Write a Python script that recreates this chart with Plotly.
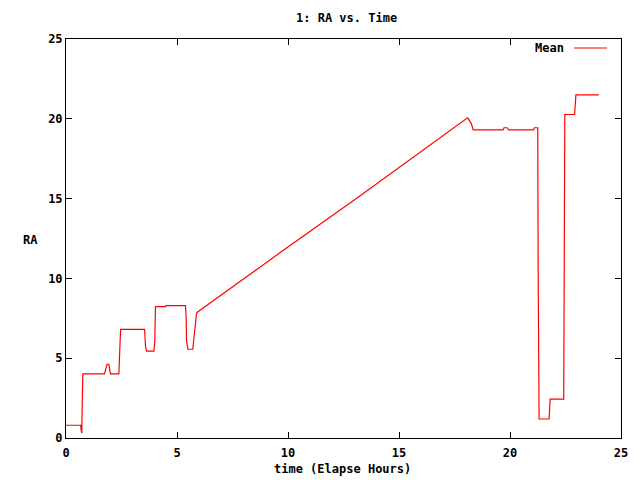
import plotly.graph_objects as go

# elapsed time (hours) and mean RA
time_hours = [0.0, 0.66, 0.68, 0.71, 0.73, 0.76, 1.73, 1.80, 1.85, 1.93, 2.00, 2.38, 2.40, 2.46,
              3.54, 3.58, 3.63, 3.96, 4.00, 4.03, 4.48, 4.50, 5.38, 5.41, 5.43, 5.49, 5.71, 5.76,
              5.84, 5.88, 5.93, 7.28, 9.60, 13.0, 16.77, 18.09, 18.19, 18.26, 18.34, 19.69, 19.73,
              19.87, 19.94, 21.06, 21.10, 21.25, 21.27, 21.31, 21.76, 21.78, 21.81, 22.42, 22.44,
              22.47, 22.91, 22.95, 22.97, 24.0]
ra_mean = [0.80, 0.80, 0.52, 0.31, 2.20, 4.02, 4.02, 4.40, 4.62, 4.62, 4.02, 4.02, 4.70, 6.81,
           6.81, 5.77, 5.44, 5.44, 6.10, 8.23, 8.23, 8.29, 8.29, 7.64, 6.10, 5.56, 5.56, 6.14,
           7.29, 7.81, 7.90, 9.23, 11.57, 14.93, 18.75, 20.06, 19.85, 19.70, 19.31, 19.31, 19.44,
           19.44, 19.31, 19.31, 19.44, 19.44, 10.30, 1.19, 1.19, 1.83, 2.44, 2.44, 11.35,
           20.27, 20.27, 20.80, 21.50, 21.50]

tick_vals = [0, 5, 10, 15, 20, 25]
tick_text = ["<b>%d</b>" % v for v in tick_vals]

FONT = "DejaVu Sans Mono"

# page body has an 8px margin; figure sized to fill the rest of the window
OFF = 8
W, H = 640 - OFF, 480 - OFF
PL, PR, PT, PB = 66, 623, 39, 438  # plot area in window pixels
l, r, t, b = PL - OFF, 640 - PR, PT - OFF, 480 - PB
pw, ph = PR - PL, PB - PT

fig = go.Figure()
fig.add_trace(go.Scatter(x=time_hours, y=ra_mean, mode="lines", name="Mean",
                         line=dict(color="#ff0000", width=1.2), showlegend=False))

axis_common = dict(showline=True, linecolor="black", linewidth=1, mirror="ticks",
                   ticks="inside", ticklen=6, tickcolor="black", showgrid=False,
                   zeroline=False, tickvals=tick_vals, ticktext=tick_text,
                   tickfont=dict(family=FONT, size=12, color="black"))

fig.update_layout(
    width=W, height=H,
    margin=dict(l=l, r=r, t=t, b=b),
    paper_bgcolor="white", plot_bgcolor="white",
    xaxis=dict(range=[0, 25], **axis_common),
    yaxis=dict(range=[0, 25], **axis_common),
    font=dict(family=FONT, size=12, color="black"),
)
fig.update_xaxes(ticklabelstandoff=4)

def px(x):
    return (x - PL) / pw

def py(y):
    return (PB - y) / ph

texts = [
    ("<b>1: RA vs. Time</b>", 348, 18, "center"),
    ("<b>time (Elapse Hours)</b>", 343, 469, "center"),
    ("<b>RA</b>", 30, 240, "center"),
    ("<b>Mean</b>", 568, 48, "right"),
]
fig.update_layout(annotations=[
    dict(text=s, x=px(x), y=py(y), xref="paper", yref="paper", showarrow=False,
         xanchor=xa, yanchor="middle", font=dict(family=FONT, size=12, color="black"))
    for s, x, y, xa in texts
])

# legend sample line
fig.add_shape(type="line", xref="paper", yref="paper",
              x0=px(576), x1=px(609), y0=py(48), y1=py(48),
              line=dict(color="#ff0000", width=1.2))

fig.write_html("out.html")
